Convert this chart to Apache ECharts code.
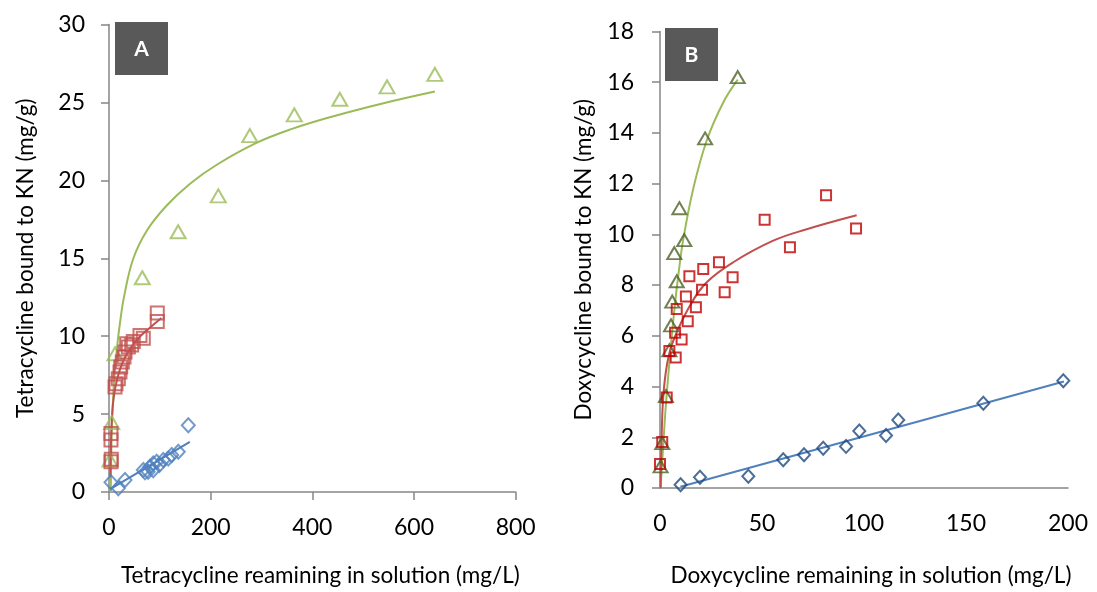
<!DOCTYPE html>
<html>
<head>
<meta charset="utf-8">
<script src="https://cdn.jsdelivr.net/npm/echarts@6.0.0/dist/echarts.min.js"></script>
<style>
  html, body { margin: 0; padding: 0; background: #fff; }
  #chart { width: 1097px; height: 592px; }
</style>
</head>
<body>
<div id="chart"></div>
<script>
// ---- Panel A: tetracycline ----
const tetraHighPts = [[2, 2.05], [5.3, 4.46], [11.8, 8.87], [65.5, 13.75], [136, 16.7], [215, 19.0],
  [277, 22.87], [364.5, 24.2], [454, 25.2], [547, 26.0], [641, 26.8]];
const tetraHighFit = [[3.5, 0], [4.5, 2.5], [6, 4.5], [8, 6.0], [11, 7.6], [15, 9.0], [21, 10.7], [30, 12.6],
  [48, 15.0], [75, 16.8], [114, 18.4], [160, 19.8], [212, 21.0], [290, 22.4], [360, 23.3], [440, 24.1],
  [540, 24.95], [641, 25.7]];
const tetraMidPts = [[3.9, 1.94], [4.5, 2.1], [3.9, 3.33], [3.9, 3.75], [11.8, 6.74], [13.8, 6.95], [18.3, 7.27],
  [21.6, 7.7], [23, 8.02], [26.2, 8.34], [29.5, 8.66], [31.5, 8.98], [34.8, 9.51], [38, 9.3], [44.6, 9.44],
  [47.8, 9.66], [61, 10.04], [67.5, 9.87], [95, 10.94], [95, 11.49]];
const tetraMidFit = [[2.5, 1.0], [3.5, 2.5], [5, 4.3], [8, 5.7], [13, 6.8], [20, 7.7], [30, 8.55], [45, 9.35],
  [60, 9.95], [77, 10.45], [103, 11.17]];
const tetraLowPts = [[3.9, 0.62], [18.3, 0.24], [31.5, 0.77], [67.5, 1.41], [70.8, 1.26], [77, 1.3], [80.6, 1.62],
  [87, 1.4], [87, 1.83], [93.8, 1.94], [99, 1.73], [106.8, 2.05], [116.6, 2.15], [123.3, 2.37], [136.3, 2.58],
  [156, 4.28]];
const tetraLowFit = [[3, 0.2], [159, 3.22]];

// ---- Panel B: doxycycline ----
const doxyHighPts = [[0.3, 0.85], [1.1, 1.77], [2.9, 3.62], [4.6, 5.43], [5.4, 6.41], [6.0, 7.35], [8.2, 8.15],
  [7.0, 9.26], [11.9, 9.77], [9.5, 11.03], [22.1, 13.78], [38.1, 16.2]];
const doxyHighFit = [[0.3, 0], [1.5, 1.6], [3, 3.4], [5, 5.3], [7, 7.0], [9, 8.4], [11.4, 9.8], [16.3, 11.8],
  [22.9, 13.7], [31, 15.2], [38.1, 16.1]];
const doxyMidPts = [[0, 0.95], [1.1, 1.81], [3.3, 3.57], [4.6, 5.4], [7.7, 5.14], [7.4, 6.12], [10.6, 5.85],
  [8.2, 7.06], [13.6, 6.57], [12.7, 7.55], [17.6, 7.13], [14.4, 8.35], [20.6, 7.82], [21.2, 8.63], [28.9, 8.9],
  [31.7, 7.72], [35.6, 8.31], [51.3, 10.57], [63.7, 9.49], [81.4, 11.54], [96.1, 10.23]];
const doxyMidFit = [[0.3, 0], [0.8, 2.0], [1.6, 3.6], [3.5, 4.9], [6.5, 5.8], [14.7, 7.19], [22.9, 8.11],
  [35.9, 8.9], [55.5, 9.75], [71.9, 10.2], [96.4, 10.75]];
const doxyLowPts = [[10.1, 0.13], [19.6, 0.42], [43.3, 0.46], [60.4, 1.11], [70.6, 1.31], [80.0, 1.57],
  [91.2, 1.64], [97.7, 2.25], [110.8, 2.07], [116.8, 2.68], [158.5, 3.34], [197.7, 4.23]];
const doxyLowFit = [[10, 0.05], [198, 4.2]];

const xTicksA = [0, 200, 400, 600, 800];
const yTicksA = [0, 5, 10, 15, 20, 25, 30];
const xTicksB = [0, 50, 100, 150, 200];
const yTicksB = [0, 2, 4, 6, 8, 10, 12, 14, 16, 18];

const FONT = 'Lato, "Open Sans", sans-serif';
const AXIS_GREY = '#868686';

function valueAxis(gridIndex, ticks, opts) {
  return Object.assign({
    type: 'value',
    gridIndex: gridIndex,
    min: ticks[0],
    max: ticks[ticks.length - 1],
    interval: ticks[1] - ticks[0],
    splitLine: { show: false },
    axisLine: { show: true, onZero: false, lineStyle: { color: AXIS_GREY, width: 1.5 } },
    axisTick: { show: true, length: 8, lineStyle: { color: AXIS_GREY, width: 1.5 } },
    axisLabel: { fontSize: 23, color: '#000', fontFamily: FONT, margin: 24 },
    nameLocation: 'middle',
    nameTextStyle: { fontSize: 22.5, color: '#000', fontFamily: FONT }
  }, opts);
}

function points(idx, data, symbol, size, color) {
  return {
    type: 'scatter', xAxisIndex: idx, yAxisIndex: idx, data: data,
    symbol: symbol, symbolSize: size, z: 3,
    itemStyle: { color: 'transparent', borderColor: color, borderWidth: 2 }
  };
}

function fit(idx, data, color) {
  return {
    type: 'line', xAxisIndex: idx, yAxisIndex: idx, data: data,
    showSymbol: false, smooth: 0.4, z: 2,
    lineStyle: { color: color, width: 2 }
  };
}

function tag(x, y, letter) {
  return {
    type: 'group', x: x, y: y,
    children: [
      { type: 'rect', shape: { x: 0, y: 0, width: 53, height: 53 }, style: { fill: '#595959' } },
      { type: 'text', x: 26.5, y: 27, style: { text: letter, fill: '#fff', font: 'bold 21px ' + FONT,
        align: 'center', verticalAlign: 'middle' } }
    ]
  };
}

const chart = echarts.init(document.getElementById('chart'));
chart.setOption({
  animation: false,
  backgroundColor: '#fff',
  grid: [
    { left: 109, top: 24.5, width: 406.7, height: 469.2 },
    { left: 660, top: 31.4, width: 408, height: 458.6 }
  ],
  xAxis: [
    valueAxis(0, xTicksA, { name: 'Tetracycline reamining in solution (mg/L)', nameGap: 72,
      nameTextStyle: { fontSize: 22.5, color: '#000', fontFamily: FONT, padding: [0, 0, 0, 16] } }),
    valueAxis(1, xTicksB, { name: 'Doxycycline remaining in solution (mg/L)', nameGap: 76,
      axisTick: { show: false },
      nameTextStyle: { fontSize: 22.5, color: '#000', fontFamily: FONT, padding: [0, 0, 0, 14] } })
  ],
  yAxis: [
    valueAxis(0, yTicksA, { name: 'Tetracycline bound to KN (mg/g)', nameGap: 72 }),
    valueAxis(1, yTicksB, { name: 'Doxycycline bound to KN (mg/g)', nameGap: 65,
      axisLabel: { fontSize: 23, color: '#000', fontFamily: FONT, margin: 26 } })
  ],
  graphic: [tag(115, 22, 'A'), tag(665, 28, 'B')],
  series: [
    fit(0, tetraHighFit, '#9BBB59'),
    fit(0, tetraMidFit, '#C0504D'),
    fit(0, tetraLowFit, '#4F81BD'),
    points(0, tetraHighPts, 'triangle', [15, 13], '#9BBB59'),
    points(0, tetraMidPts, 'rect', 13, '#C0504D'),
    points(0, tetraLowPts, 'diamond', [13, 14], '#4F81BD'),
    fit(1, doxyHighFit, '#9BBB59'),
    fit(1, doxyMidFit, '#C0504D'),
    fit(1, doxyLowFit, '#4F81BD'),
    points(1, doxyHighPts, 'triangle', [14, 12], '#4F6228'),
    points(1, doxyMidPts, 'rect', 10, '#C00000'),
    points(1, doxyLowPts, 'diamond', [12, 13], '#1F497D')
  ]
});
</script>
</body>
</html>
